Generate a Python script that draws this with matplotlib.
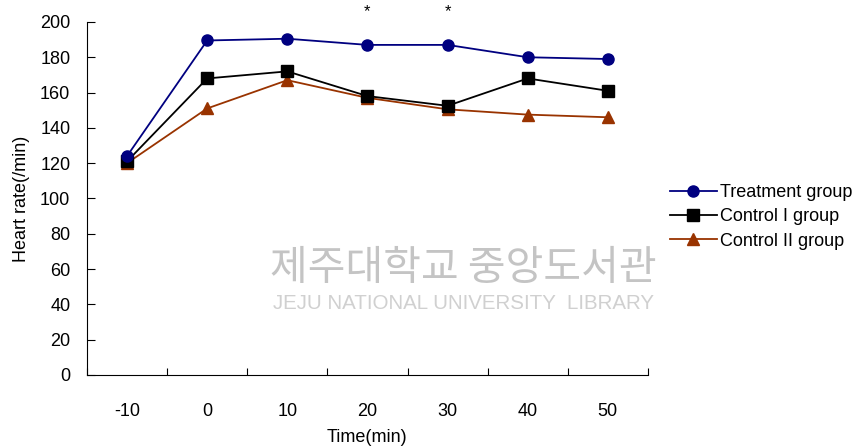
import matplotlib.pyplot as plt

plt.rcParams["font.family"] = ["Liberation Sans", "DejaVu Sans"]

# data
times = ["-10", "0", "10", "20", "30", "40", "50"]
treatment = [124, 189.5, 190.5, 187, 187, 180, 179]
control1 = [121, 168, 172, 158, 152.5, 168, 161]
control2 = [120, 151, 167, 157, 150.5, 147.5, 146]
signif = ["", "", "", "*", "*", "", ""]

fig = plt.figure(figsize=(8.67, 4.48), dpi=100)
ax = fig.add_axes([0.1003, 0.163, 0.647, 0.788])

x = list(range(len(times)))
ax.plot(x, treatment, color="#000080", marker="o", markersize=8, lw=1.3,
        label="Treatment group", zorder=5)
ax.plot(x, control1, color="black", marker="s", markersize=8, lw=1.3,
        label="Control I group", zorder=4)
ax.plot(x, control2, color="#993300", marker="^", markersize=8, lw=1.3,
        label="Control II group", zorder=3)

for i, s in enumerate(signif):
    if s:
        ax.text(i, 206, s, ha="center", va="center", fontsize=12)

ax.set_xlim(-0.5, len(times) - 0.5)
ax.set_ylim(0, 200)
ax.set_yticks(range(0, 201, 20))
ax.set_xticks([i - 0.5 for i in range(len(times) + 1)], minor=False)
ax.set_xticklabels([])
ax.set_xticks(x, minor=True)
ax.set_xticklabels(times, minor=True)
ax.tick_params(axis="x", which="major", direction="in", length=5, width=0.8)
ax.tick_params(axis="x", which="minor", length=0, pad=20, labelsize=13)
ax.tick_params(axis="y", direction="in", length=6, width=0.8, labelsize=13, pad=12)
ax.spines["top"].set_visible(False)
ax.spines["right"].set_visible(False)

ax.set_ylabel("Heart rate(/min)", fontsize=13, labelpad=7)
ax.set_xlabel("Time(min)", fontsize=13, labelpad=7)

# library watermark
fig.text(0.311, 0.40, "제주대학교 중앙도서관", fontsize=29.5, color="#c4c4c4",
         family=["Noto Sans CJK KR", "DejaVu Sans"], va="center", zorder=0)
fig.text(0.315, 0.322, "JEJU NATIONAL UNIVERSITY  LIBRARY", fontsize=14.8,
         color="#d0d0d0", va="center", zorder=0)

leg = ax.legend(loc="center left", bbox_to_anchor=(1.039, 0.448), frameon=False,
                fontsize=13, handlelength=2.6, handletextpad=0.2,
                labelspacing=0.4, borderaxespad=0, borderpad=0)

fig.savefig("out.png", dpi=100)
